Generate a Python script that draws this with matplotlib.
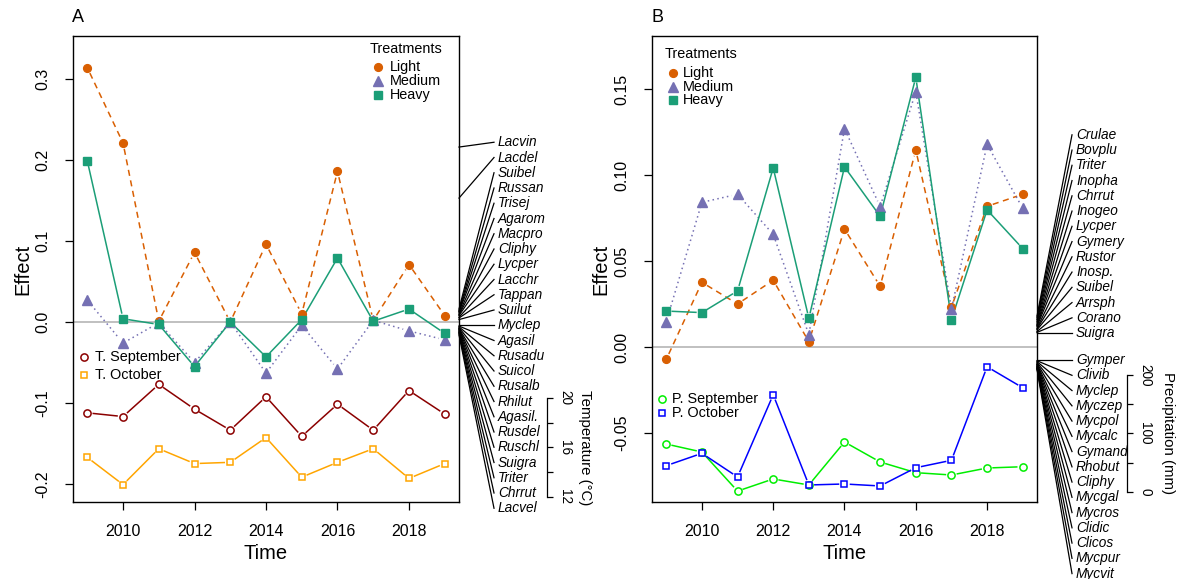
import matplotlib
matplotlib.use("Agg")
import matplotlib.pyplot as plt
from matplotlib.lines import Line2D
import numpy as np

plt.rcParams['font.family'] = ['Liberation Sans', 'DejaVu Sans']

# ---------------- data ----------------
years = [2009, 2010, 2011, 2012, 2013, 2014, 2015, 2016, 2017, 2018, 2019]

# Panel A (temperature)
a_light = [0.314, 0.221, 0.001, 0.086, 0.000, 0.096, 0.010, 0.186, 0.002, 0.071, 0.008]
a_medium = [0.027, -0.026, -0.001, -0.050, 0.000, -0.063, -0.004, -0.058, 0.002, -0.011, -0.022]
a_heavy = [0.199, 0.004, -0.003, -0.055, 0.000, -0.043, 0.003, 0.079, 0.001, 0.016, -0.014]
temp_sept = [18.8, 18.5, 21.1, 19.1, 17.4, 20.1, 16.9, 19.5, 17.4, 20.6, 18.7]
temp_oct = [15.2, 13.0, 15.9, 14.7, 14.8, 16.8, 13.6, 14.8, 15.9, 13.5, 14.7]

a_species = ["Lacvin", "Lacdel", "Suibel", "Russan", "Trisej", "Agarom", "Macpro",
             "Cliphy", "Lycper", "Lacchr", "Tappan", "Suilut", "Myclep", "Agasil",
             "Rusadu", "Suicol", "Rusalb", "Rhilut", "Agasil.", "Rusdel", "Ruschl",
             "Suigra", "Triter", "Chrrut", "Lacvel"]
a_scores = [0.216, 0.153, 0.016, 0.014, 0.013, 0.012, 0.010, 0.009, 0.008, 0.006,
            0.005, 0.003, -0.004, -0.005, -0.006, -0.007, -0.008, -0.0085, -0.009,
            -0.010, -0.011, -0.012, -0.013, -0.014, -0.016]

# Panel B (precipitation)
b_light = [-0.0072, 0.0376, 0.0250, 0.0388, 0.0031, 0.0686, 0.0353, 0.1145, 0.0231, 0.0818, 0.0888]
b_medium = [0.0147, 0.0841, 0.0888, 0.0655, 0.0072, 0.1270, 0.0816, 0.1485, 0.0221, 0.1178, 0.0806]
b_heavy = [0.0209, 0.0200, 0.0326, 0.1041, 0.0167, 0.1047, 0.0760, 0.1568, 0.0159, 0.0797, 0.0572]
prec_sept = [81.7, 68.0, 1.0, 21.8, 11.5, 85.2, 50.9, 32.6, 28.6, 40.6, 42.8]
prec_oct = [44.6, 65.8, 25.2, 166.2, 11.5, 13.2, 9.8, 41.1, 53.8, 214.2, 178.2]

b_species = ["Crulae", "Bovplu", "Triter", "Inopha", "Chrrut", "Inogeo", "Lycper",
             "Gymery", "Rustor", "Inosp.", "Suibel", "Arrsph", "Corano", "Suigra",
             "Gymper", "Clivib", "Myclep", "Myczep", "Mycpol", "Mycalc", "Gymand",
             "Rhobut", "Cliphy", "Mycgal", "Mycros", "Clidic", "Clicos", "Mycpur", "Mycvit"]
b_scores = [0.018, 0.017, 0.016, 0.015, 0.014, 0.013, 0.0125, 0.012, 0.011, 0.0105,
            0.010, 0.009, 0.0085, 0.0081, -0.0076, -0.008, -0.0085, -0.009, -0.0095,
            -0.0100, -0.0102, -0.0105, -0.011, -0.0112, -0.0115, -0.012, -0.0122,
            -0.0125, -0.013]

treat_labels = ["Light", "Medium", "Heavy"]

# ---------------- style ----------------
C_LIGHT, C_MED, C_HEAVY = "#D95F02", "#7570B3", "#1B9E77"
C_TSEP, C_TOCT = "#8B0000", "#FFA500"
C_PSEP, C_POCT = "#00EE00", "#0000FF"

W, H = 1179, 579
fig = plt.figure(figsize=(W / 100, H / 100), dpi=100)


def px_axes(l, r, t, b):
    return fig.add_axes([l / W, 1 - b / H, (r - l) / W, (b - t) / H])


axA = px_axes(73, 459, 36, 502)
axB = px_axes(652, 1037, 36, 502)
axA.set_xlim(2008.6, 2019.4)
axB.set_xlim(2008.6, 2019.4)
axA.set_ylim(-0.2222, 0.3531)
axB.set_ylim(-0.0901, 0.1808)

# scale maps for climate variables into effect units (layout constants)
T_REF, T_EFF = (12.0, 20.0), (-0.2160, -0.0938)
P_REF, P_EFF = (0.0, 200.0), (-0.0841, -0.0163)


def lin(v, ref, eff):
    v = np.asarray(v, float)
    return eff[0] + (v - ref[0]) * (eff[1] - eff[0]) / (ref[1] - ref[0])


def gapped(ax, x, y, gap=6.0, **kw):
    pts = ax.transData.transform(np.column_stack([x, y]))
    inv = ax.transData.inverted()
    for i in range(len(pts) - 1):
        p0, p1 = pts[i], pts[i + 1]
        d = p1 - p0
        L = np.hypot(*d)
        if L <= 2 * gap:
            continue
        u = d / L
        seg = inv.transform(np.vstack([p0 + u * gap, p1 - u * gap]))
        ax.plot(seg[:, 0], seg[:, 1], **kw)


LW = 1.1
DASH = (0, (4, 3))
DOT = (0, (1, 2.2))


def draw_series(ax, light, med, heavy):
    gapped(ax, years, light, color=C_LIGHT, lw=LW, linestyle=DASH, zorder=3)
    gapped(ax, years, med, color=C_MED, lw=LW, linestyle=DOT, zorder=3)
    gapped(ax, years, heavy, color=C_HEAVY, lw=LW, zorder=3)
    ax.plot(years, light, 'o', color=C_LIGHT, ms=5.6, mec=C_LIGHT, zorder=4)
    ax.plot(years, med, '^', color=C_MED, ms=6.6, mec=C_MED, zorder=4)
    ax.plot(years, heavy, 's', color=C_HEAVY, ms=5.2, mec=C_HEAVY, zorder=4)


def draw_clim(ax, v1, v2, c1, c2):
    gapped(ax, years, v1, color=c1, lw=LW, zorder=3)
    gapped(ax, years, v2, color=c2, lw=LW, zorder=3)
    ax.plot(years, v1, 'o', mfc='white', mec=c1, mew=1.1, ms=5.2, zorder=4)
    ax.plot(years, v2, 's', mfc='white', mec=c2, mew=1.1, ms=5.0, zorder=4)


for ax in (axA, axB):
    ax.axhline(0, color="#C0C0C0", lw=1.4, zorder=1)
    for s in ax.spines.values():
        s.set_linewidth(1.0)
    ax.set_xticks([2010, 2012, 2014, 2016, 2018])
    ax.tick_params(axis='x', direction='out', length=5.5, width=0.9, pad=10, labelsize=11.5)
    ax.tick_params(axis='y', direction='out', length=5.5, width=0.9, pad=11, labelsize=11.5,
                   labelrotation=90)
    ax.set_xlabel("Time", fontsize=14.5)
    ax.set_ylabel("Effect", fontsize=14.5)
    ax.xaxis.set_label_coords(0.5, -(544 - 502) / 466)

axA.set_yticks([-0.2, -0.1, 0.0, 0.1, 0.2, 0.3])
axA.set_yticklabels(["-0.2", "-0.1", "0.0", "0.1", "0.2", "0.3"], va='center')
axB.set_yticks([-0.05, 0.0, 0.05, 0.10, 0.15])
axB.set_yticklabels(["-0.05", "0.00", "0.05", "0.10", "0.15"], va='center')
axA.yaxis.set_label_coords(-(73 - 32) / 386, 0.5)
axB.yaxis.set_label_coords(-(652 - 610) / 385, 0.5)

draw_series(axA, a_light, a_medium, a_heavy)
draw_clim(axA, lin(temp_sept, T_REF, T_EFF), lin(temp_oct, T_REF, T_EFF), C_TSEP, C_TOCT)
draw_series(axB, b_light, b_medium, b_heavy)
draw_clim(axB, lin(prec_sept, P_REF, P_EFF), lin(prec_oct, P_REF, P_EFF), C_PSEP, C_POCT)


# ---------------- species stacks ----------------
def linestack(ax, scores, labels, ht_px=15.25, line_px=35, text_px=39):
    order = np.argsort(scores)
    sc = np.asarray(scores, float)[order]
    labs = [labels[i] for i in order]
    x_edge = ax.transAxes.transform((1, 0))[0]
    ypix = ax.transData.transform(np.column_stack([np.zeros_like(sc), sc]))[:, 1]
    n = len(sc)
    mid = (n + 1) // 2 - 1
    pos = np.zeros(n)
    pos[mid] = ypix[mid]
    for i in range(mid + 1, n):
        pos[i] = max(ypix[i], pos[i - 1] + ht_px)
    for i in range(mid - 1, -1, -1):
        pos[i] = min(ypix[i], pos[i + 1] - ht_px)
    for yp, yl, lab in zip(ypix, pos, labs):
        fig.add_artist(Line2D([x_edge / W, (x_edge + line_px) / W], [yp / H, yl / H],
                              transform=fig.transFigure, color='black', lw=0.9))
        fig.text((x_edge + text_px) / W, yl / H, lab, fontsize=9.8, style='italic',
                 ha='left', va='center')


linestack(axA, a_scores, a_species)
linestack(axB, b_scores, b_species)


# ---------------- secondary scale axes ----------------
def scale_axis(main, x_px, ref, eff, ticks, ticklabels, title, title_x_px):
    y0, y1 = main.get_ylim()
    inv = lambda e: ref[0] + (e - eff[0]) * (ref[1] - ref[0]) / (eff[1] - eff[0])
    pos = main.get_position()
    ax2 = fig.add_axes([x_px / W - 0.0005, pos.y0, 0.0005, pos.height])
    ax2.set_ylim(inv(y0), inv(y1))
    ax2.patch.set_visible(False)
    for k in ('left', 'top', 'bottom'):
        ax2.spines[k].set_visible(False)
    ax2.spines['right'].set_bounds(ref[0], ref[1])
    ax2.spines['right'].set_linewidth(0.9)
    ax2.set_xticks([])
    ax2.yaxis.tick_right()
    ax2.set_yticks(ticks)
    ax2.set_yticklabels(ticklabels)
    ax2.tick_params(axis='y', direction='out', length=4, width=0.9, pad=4, labelsize=9.8,
                    labelrotation=-90)
    for lab in ax2.get_yticklabels():
        lab.set_va('center')
    ymid = ax2.transData.transform((0, (ref[0] + ref[1]) / 2))[1]
    fig.text(title_x_px / W, ymid / H, title, rotation=-90, fontsize=10.8,
             ha='center', va='center')


scale_axis(axA, 547, T_REF, T_EFF, [12, 14, 16, 18, 20], ["12", "", "16", "", "20"],
           "Temperature (\u00b0C)", 585)
scale_axis(axB, 1127, P_REF, P_EFF, [0, 50, 100, 150, 200], ["0", "", "100", "", "200"],
           "Precipitation (mm)", 1168)


# ---------------- legends (manual, in pixel layout) ----------------
def ptxt(x, y, s, **kw):
    fig.text(x / W, 1 - y / H, s, **kw)


def pmark(x, y, **kw):
    fig.add_artist(Line2D([x / W], [1 - y / H], transform=fig.transFigure, **kw))


LEG_FS = 10.4
mk = [dict(marker='o', color=C_LIGHT, ms=5.6, ls='none'),
      dict(marker='^', color=C_MED, ms=6.6, ls='none'),
      dict(marker='s', color=C_HEAVY, ms=5.2, ls='none')]

# Panel A treatments
ptxt(406, 49, "Treatments", fontsize=LEG_FS, ha='center', va='center')
for i, (lab, m) in enumerate(zip(treat_labels, mk)):
    yy = 67 + 14 * i
    pmark(378, yy, **m)
    ptxt(390, yy, lab, fontsize=LEG_FS, ha='left', va='center')

# Panel B treatments
ptxt(665, 54, "Treatments", fontsize=LEG_FS, ha='left', va='center')
for i, (lab, m) in enumerate(zip(treat_labels, mk)):
    yy = 73 + 13.7 * i
    pmark(673, yy, **m)
    ptxt(683, yy, lab, fontsize=LEG_FS, ha='left', va='center')

# Panel A climate legend
pmark(84, 357, marker='o', mfc='white', mec=C_TSEP, mew=1.1, ms=5.2, ls='none')
ptxt(95, 357, "T. September", fontsize=LEG_FS, ha='left', va='center')
pmark(84, 375, marker='s', mfc='white', mec=C_TOCT, mew=1.1, ms=5.0, ls='none')
ptxt(95, 375, "T. October", fontsize=LEG_FS, ha='left', va='center')

# Panel B climate legend
pmark(662, 399, marker='o', mfc='white', mec=C_PSEP, mew=1.1, ms=5.2, ls='none')
ptxt(672, 399, "P. September", fontsize=LEG_FS, ha='left', va='center')
pmark(662, 413, marker='s', mfc='white', mec=C_POCT, mew=1.1, ms=5.0, ls='none')
ptxt(672, 413, "P. October", fontsize=LEG_FS, ha='left', va='center')

# panel letters
ptxt(72, 18, "A", fontsize=13, ha='left', va='center')
ptxt(652, 18, "B", fontsize=13, ha='left', va='center')

fig.savefig("out.png", dpi=100)
